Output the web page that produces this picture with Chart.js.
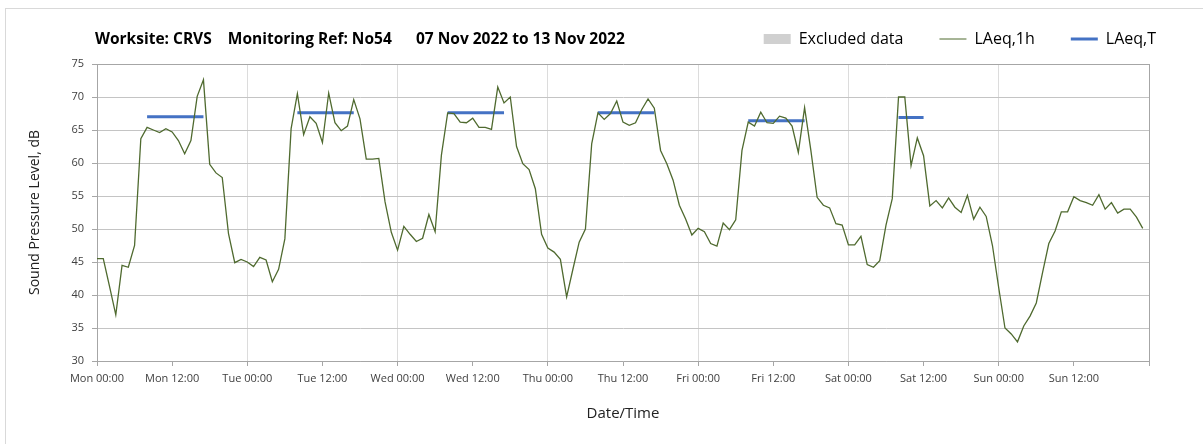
<!DOCTYPE html>
<html>
<head>
<meta charset="utf-8">
<script src="https://cdn.jsdelivr.net/npm/chart.js@4"></script>
<style>
  body { margin: 0; background: #fff; }
  #wrap { position: relative; width: 1203px; height: 444px; }
  #frame { position: absolute; left: 5px; top: 8px; right: -2px; bottom: -2px; border-top: 1px solid #d9d9d9; border-left: 1px solid #d9d9d9; }
  #title { position: absolute; left: 95px; top: 27px; font: bold 15.5px "Open Sans", sans-serif; color: #000; white-space: pre; }
  canvas { position: absolute; left: 0; top: 0; }
</style>
</head>
<body>
<div id="wrap">
  <div id="frame"></div>
  <canvas id="chart" width="1203" height="444"></canvas>
  <div id="title">Worksite: CRVS    Monitoring Ref: No54      07 Nov 2022 to 13 Nov 2022</div>
</div>
<script>
// hourly LAeq,1h values, Mon 00:00 .. Sun 23:00
var laeq1h = [
  45.5, 45.5, 41.3, 37.0, 44.5, 44.2, 47.5, 63.7, 65.4, 65.0, 64.6, 65.2,
  64.7, 63.4, 61.4, 63.4, 70.1, 72.6, 59.8, 58.5, 57.8, 49.3, 44.9, 45.4,
  45.0, 44.3, 45.7, 45.3, 42.0, 43.9, 48.5, 65.2, 70.5, 64.3, 67.0, 66.0,
  63.1, 70.6, 66.1, 64.9, 65.6, 69.6, 66.7, 60.6, 60.6, 60.7, 54.1, 49.5,
  46.8, 50.4, 49.2, 48.1, 48.6, 52.2, 49.6, 61.2, 67.6, 67.5, 66.2, 66.1,
  66.8, 65.4, 65.4, 65.1, 71.5, 69.1, 70.0, 62.5, 59.9, 59.0, 56.1, 49.2,
  47.1, 46.5, 45.4, 39.7, 43.9, 48.0, 50.0, 62.9, 67.6, 66.6, 67.5, 69.4,
  66.2, 65.7, 66.1, 68.1, 69.7, 68.3, 61.9, 59.9, 57.4, 53.6, 51.5, 49.1,
  50.1, 49.6, 47.8, 47.4, 50.9, 49.9, 51.4, 61.9, 66.2, 65.6, 67.7, 66.1,
  66.0, 67.1, 66.8, 65.6, 61.6, 68.4, 61.9, 54.8, 53.6, 53.2, 50.8, 50.6,
  47.6, 47.6, 48.9, 44.6, 44.2, 45.2, 50.6, 54.6, 70.0, 70.0, 59.6, 63.8,
  61.1, 53.5, 54.3, 53.2, 54.7, 53.3, 52.5, 55.1, 51.5, 53.3, 51.9, 47.5,
  41.1, 35.0, 34.1, 32.9, 35.3, 36.8, 38.8, 43.4, 47.8, 49.7, 52.6, 52.6,
  54.9, 54.3, 54.0, 53.6, 55.2, 53.0, 54.0, 52.4, 53.0, 53.0, 51.8, 50.1
];

// LAeq,T periods (hour index start/end and level)
var periodStart = [8, 32, 56, 80, 104, 128];
var periodEnd = [17, 41, 65, 89, 113, 132];
var periodLevel = [67.0, 67.6, 67.6, 67.6, 66.4, 66.9];

var tickLabels = [
  "Mon 00:00", "Mon 12:00", "Tue 00:00", "Tue 12:00", "Wed 00:00", "Wed 12:00",
  "Thu 00:00", "Thu 12:00", "Fri 00:00", "Fri 12:00", "Sat 00:00", "Sat 12:00",
  "Sun 00:00", "Sun 12:00", ""
];

var hourly = laeq1h.map(function (v, i) { return { x: i, y: v }; });
var periods = [];
for (var i = 0; i < periodStart.length; i++) {
  periods.push({ x: periodStart[i], y: periodLevel[i] });
  periods.push({ x: periodEnd[i], y: periodLevel[i] });
  periods.push({ x: periodEnd[i], y: null });
}

var font = "'Open Sans', sans-serif";
var ctx = document.getElementById("chart").getContext("2d");

// keep the plot top fixed under the legend row
var legendHeight = {
  id: "legendHeight",
  afterInit: function (chart) {
    var lg = chart.legend;
    var fit = lg.fit;
    lg.fit = function () {
      fit.call(this);
      this.height = 69;
    };
  },
};

var chart = new Chart(ctx, {
  type: "line",
  data: {
    datasets: [
      {
        label: "Excluded data",
        data: [],
        backgroundColor: "#d0d0d0",
      },
      {
        label: "LAeq,1h",
        data: hourly,
        borderColor: "#4f6a2f",
        borderWidth: 1.3,
        pointRadius: 0,
        tension: 0,
      },
      {
        label: "LAeq,T",
        data: periods,
        borderColor: "#4472c4",
        borderWidth: 3,
        pointRadius: 0,
        spanGaps: false,
      },
    ],
  },
  plugins: [legendHeight],
  options: {
    responsive: false,
    animation: false,
    layout: { padding: { left: 0, right: 11, top: -5, bottom: 0 } },
    plugins: {
      tooltip: { enabled: false },
      legend: {
        position: "top",
        align: "end",
        labels: {
          usePointStyle: true,
          pointStyleWidth: 27,
          boxHeight: 10,
          padding: 36,
          color: "#000",
          font: { family: font, size: 16 },
          generateLabels: function () {
            return [
              { text: "Excluded data", fillStyle: "#d0d0d0", strokeStyle: "#d0d0d0", lineWidth: 0, pointStyle: "rect", fontColor: "#000" },
              { text: "LAeq,1h", fillStyle: "#4f6a2f", strokeStyle: "#4f6a2f", lineWidth: 1, pointStyle: "line", fontColor: "#000" },
              { text: "LAeq,T", fillStyle: "#4472c4", strokeStyle: "#4472c4", lineWidth: 3, pointStyle: "line", fontColor: "#000" },
            ];
          },
        },
      },
    },
    scales: {
      x: {
        type: "linear",
        min: 0,
        max: 168,
        afterFit: function (s) { s.height = 83; },
        ticks: {
          stepSize: 12,
          autoSkip: false,
          maxRotation: 0,
          padding: 6,
          color: "#404040",
          font: { family: font, size: 11 },
          callback: function (v) { return tickLabels[v / 12]; },
        },
        grid: {
          color: function (c) { return c.tick && c.tick.value % 24 === 0 ? "#dcdcdc" : "rgba(0,0,0,0)"; },
          tickColor: "#a6a6a6",
          tickLength: 5,
        },
        border: { color: "#a6a6a6" },
        title: {
          display: true,
          text: "Date/Time",
          color: "#222",
          font: { family: font, size: 15 },
          padding: { bottom: 21 },
        },
      },
      y: {
        min: 30,
        max: 75,
        afterFit: function (s) { s.width = 97; },
        ticks: {
          stepSize: 5,
          padding: 8,
          color: "#404040",
          font: { family: font, size: 11 },
        },
        grid: {
          color: function (c) { return c.tick && c.tick.value === 75 ? "#a6a6a6" : "#c4c4c4"; },
          tickColor: "#a6a6a6",
          tickLength: 5,
        },
        border: { color: "#a6a6a6" },
        title: {
          display: true,
          text: "Sound Pressure Level, dB",
          color: "#222",
          font: { family: font, size: 14 },
          padding: { top: 27 },
        },
      },
      yR: {
        position: "right",
        min: 30,
        max: 75,
        afterFit: function (s) { s.width = 43; },
        ticks: { display: false },
        grid: { display: false },
        border: { display: true, color: "#a6a6a6" },
      },
    },
  },
});
</script>
</body>
</html>
